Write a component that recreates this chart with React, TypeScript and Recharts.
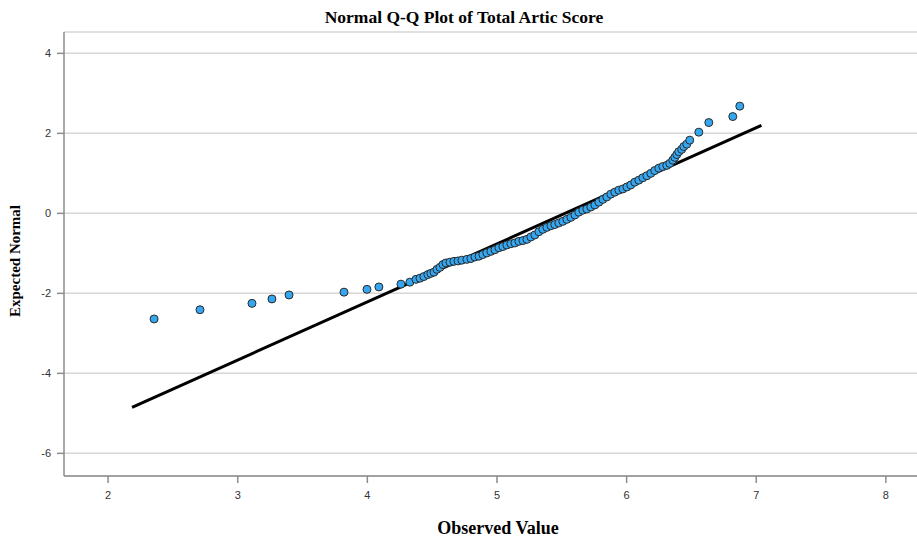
import React from "react";
import {
  ScatterChart,
  Scatter,
  XAxis,
  YAxis,
  CartesianGrid,
  ReferenceLine,
} from "recharts";

const observed: number[] = [
  2.355, 2.709, 3.11, 3.264, 3.396, 3.82, 3.997, 4.089, 4.259, 4.328,
  4.375, 4.406, 4.436, 4.467, 4.49, 4.514, 4.537, 4.56, 4.583, 4.606,
  4.637, 4.668, 4.699, 4.729, 4.768, 4.799, 4.83, 4.861, 4.891, 4.922,
  4.953, 4.984, 5.015, 5.045, 5.076, 5.107, 5.138, 5.169, 5.2, 5.231,
  5.261, 5.292, 5.323, 5.354, 5.385, 5.416, 5.446, 5.477, 5.508, 5.539,
  5.57, 5.601, 5.631, 5.662, 5.693, 5.724, 5.755, 5.786, 5.817, 5.847,
  5.878, 5.909, 5.94, 5.971, 6.002, 6.032, 6.063, 6.094, 6.125, 6.156,
  6.187, 6.217, 6.248, 6.279, 6.31, 6.333, 6.356, 6.372, 6.387, 6.402,
  6.425, 6.441, 6.464, 6.487, 6.557, 6.634, 6.819, 6.873,
];

const expectedNormal: number[] = [
  -2.64, -2.41, -2.25, -2.14, -2.04, -1.97, -1.9, -1.84, -1.77, -1.72,
  -1.65, -1.62, -1.58, -1.53, -1.5, -1.47, -1.4, -1.35, -1.28, -1.24,
  -1.22, -1.2, -1.19, -1.17, -1.15, -1.13, -1.09, -1.07, -1.03, -0.99,
  -0.95, -0.91, -0.86, -0.83, -0.79, -0.76, -0.74, -0.7, -0.68, -0.65,
  -0.59, -0.54, -0.46, -0.4, -0.35, -0.31, -0.28, -0.24, -0.2, -0.15,
  -0.1, -0.04, 0.03, 0.08, 0.11, 0.16, 0.21, 0.28, 0.35, 0.41,
  0.48, 0.53, 0.58, 0.61, 0.66, 0.71, 0.78, 0.83, 0.89, 0.94,
  1.0, 1.07, 1.13, 1.17, 1.2, 1.25, 1.33, 1.4, 1.47, 1.54,
  1.6, 1.67, 1.73, 1.83, 2.03, 2.27, 2.42, 2.68,
];

const fitLineX: number[] = [2.185, 7.04];
const fitLineY: number[] = [-4.85, 2.2];

const xTicks: number[] = [2, 3, 4, 5, 6, 7, 8];
const yTicks: number[] = [-6, -4, -2, 0, 2, 4];

const points = observed.map((x, i) => ({ x, y: expectedNormal[i] }));

const serif = '"Liberation Serif", "Times New Roman", serif';
const sans = '"Liberation Sans", Arial, sans-serif';

export default function App() {
  return (
    <div style={{ position: "absolute", left: 0, top: 0, width: 917, height: 537, background: "#fff" }}>
      <ScatterChart
        width={917}
        height={537}
        margin={{ top: 32, right: 0, bottom: 0, left: 0 }}
      >
        <CartesianGrid
          horizontal={true}
          vertical={false}
          stroke="#d6d6d6"
          strokeWidth={1.5}
        />
        <XAxis
          type="number"
          dataKey="x"
          domain={[1.66, 8.24]}
          ticks={xTicks}
          allowDataOverflow
          height={61}
          tickSize={7}
          tickMargin={8}
          stroke="#8c8c8c"
          strokeWidth={1.5}
          tick={{ fill: "#333", fontSize: 11, fontFamily: sans }}
        />
        <YAxis
          type="number"
          dataKey="y"
          domain={[-6.566, 4.534]}
          ticks={yTicks}
          allowDataOverflow
          width={64}
          tickSize={7}
          tickMargin={6}
          stroke="#8c8c8c"
          strokeWidth={1.5}
          tick={{ fill: "#333", fontSize: 11, fontFamily: sans }}
        />
        <ReferenceLine
          segment={[
            { x: fitLineX[0], y: fitLineY[0] },
            { x: fitLineX[1], y: fitLineY[1] },
          ]}
          stroke="#000"
          strokeWidth={3}
        />
        <Scatter
          data={points}
          fill="#35a6f0"
          stroke="#2a2a2a"
          strokeWidth={1}
          isAnimationActive={false}
          shape={(props: any) => (
            <circle cx={props.cx} cy={props.cy} r={4} fill="#35a6f0" stroke="#2a2a2a" strokeWidth={1} />
          )}
        />
      </ScatterChart>
      <div
        style={{
          position: "absolute",
          left: 0,
          width: 928,
          top: 6,
          textAlign: "center",
          fontFamily: serif,
          fontWeight: "bold",
          fontSize: 17.5,
          color: "#000",
          lineHeight: "22px",
          whiteSpace: "nowrap",
        }}
      >
        Normal Q-Q Plot of Total Artic Score
      </div>
      <div
        style={{
          position: "absolute",
          left: 0,
          width: 996,
          top: 517,
          textAlign: "center",
          fontFamily: serif,
          fontWeight: "bold",
          fontSize: 18,
          color: "#000",
          lineHeight: "22px",
          whiteSpace: "nowrap",
        }}
      >
        Observed Value
      </div>
      <div
        style={{
          position: "absolute",
          left: 15,
          top: 261,
          transform: "translate(-50%, -50%) rotate(-90deg)",
          fontFamily: serif,
          fontWeight: "bold",
          fontSize: 15,
          color: "#000",
          lineHeight: "20px",
          whiteSpace: "nowrap",
        }}
      >
        Expected Normal
      </div>
    </div>
  );
}
